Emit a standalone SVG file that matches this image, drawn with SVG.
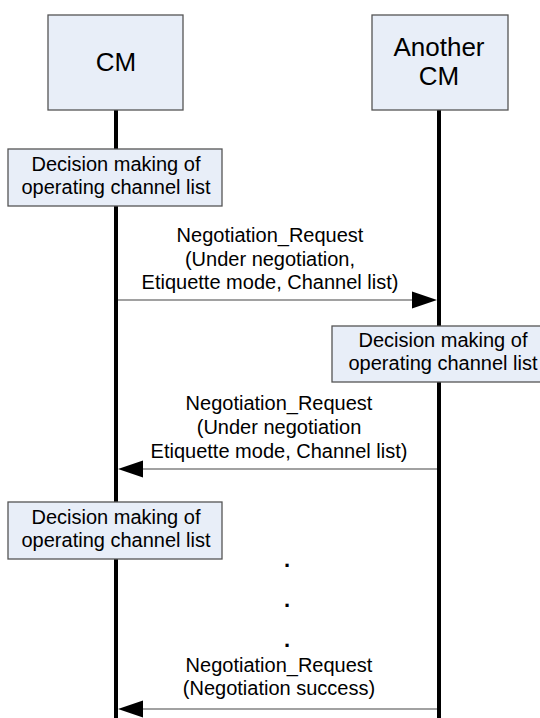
<svg xmlns="http://www.w3.org/2000/svg" width="540" height="718" viewBox="0 0 540 718">
<style>
.box{fill:#e8eef8;stroke:#555;stroke-width:1.3}
.life{stroke:#000;stroke-width:4}
.msg{stroke:#444;stroke-width:1.2;fill:none}
.head{fill:#000}
text{font-family:"Liberation Sans",Arial,sans-serif;fill:#000;text-anchor:middle}
.t{font-size:20px}
.h{font-size:26px}
.dot{font-size:22px;font-weight:bold}
</style>
<rect width="540" height="718" fill="#fff"/>
<g id="lifelines">
<line class="life" x1="116" y1="110" x2="116" y2="718"/>
<line class="life" x1="439" y1="110" x2="439" y2="718"/>
</g>
<g id="node-cm">
<rect class="box" x="48" y="15" width="135" height="95"/>
<text class="h" x="116" y="71">CM</text>
</g>
<g id="node-another-cm">
<rect class="box" x="372" y="15" width="136" height="95"/>
<text class="h" x="439" y="56">Another</text>
<text class="h" x="439" y="85">CM</text>
</g>
<g id="node-decision-1">
<rect class="box" x="8" y="149" width="214" height="57"/>
<text class="t" x="116" y="171">Decision making of</text>
<text class="t" x="116" y="194">operating channel list</text>
</g>
<g id="node-decision-2">
<rect class="box" x="332" y="326" width="222" height="56"/>
<text class="t" x="443" y="347">Decision making of</text>
<text class="t" x="443" y="370">operating channel list</text>
</g>
<g id="node-decision-3">
<rect class="box" x="8" y="502" width="214" height="57"/>
<text class="t" x="116" y="524">Decision making of</text>
<text class="t" x="116" y="547">operating channel list</text>
</g>
<g id="connectors">
<line class="msg" x1="118" y1="300" x2="415" y2="300"/>
<polygon class="head" points="437,300 412,291.5 412,308.5"/>
<line class="msg" x1="437" y1="469" x2="140" y2="469"/>
<polygon class="head" points="118,469 143,460.5 143,477.5"/>
<line class="msg" x1="437" y1="709" x2="140" y2="709"/>
<polygon class="head" points="118,709 143,700.5 143,717.5"/>
</g>
<g id="labels">
<text class="t" x="270" y="242">Negotiation_Request</text>
<text class="t" x="270" y="266">(Under negotiation,</text>
<text class="t" x="270" y="289">Etiquette mode, Channel list)</text>
<text class="t" x="279" y="410">Negotiation_Request</text>
<text class="t" x="279" y="434">(Under negotiation</text>
<text class="t" x="279" y="458">Etiquette mode, Channel list)</text>
<text class="dot" x="287" y="567">.</text>
<text class="dot" x="287" y="607">.</text>
<text class="dot" x="287" y="647">.</text>
<text class="t" x="279" y="672">Negotiation_Request</text>
<text class="t" x="279" y="695">(Negotiation success)</text>
</g>
</svg>
